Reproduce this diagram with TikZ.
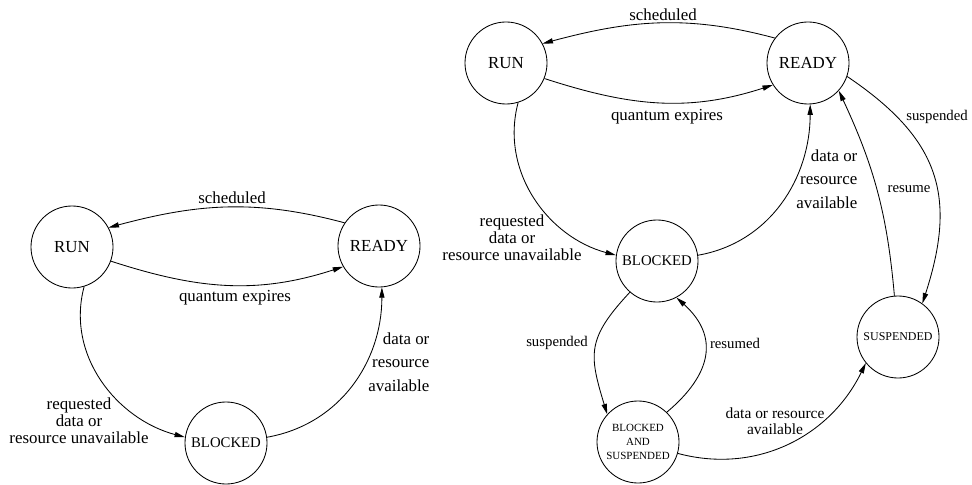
\documentclass[tikz,border=0pt]{standalone}
\usepackage{fontspec}
\setmainfont{Liberation Serif}
\usetikzlibrary{arrows.meta}
\tikzset{
	state/.style={draw, circle, line width=0.6pt, minimum size=2.05cm, inner sep=0pt, font=\fontsize{12}{14}\selectfont},
	trans/.style={-{Triangle[length=2.6mm,width=1.3mm]}, line width=0.6pt},
	lbl/.style={inner sep=1pt, align=center, font=\fontsize{12}{12}\selectfont},
	smalllbl/.style={inner sep=1pt, align=center, font=\fontsize{10.5}{12}\selectfont}
}
\begin{document}
\begin{tikzpicture}[x=0.025cm, y=0.025cm]
	\useasboundingbox (0,0) rectangle (972,-485);
	\node[state] (run1) at (72,-247) {RUN};
	\node[state] (ready1) at (379,-246) {READY};
	\node[state, font=\fontsize{10.5}{12}\selectfont] (blocked1) at (226,-443) {BLOCKED};
	\draw[trans] (ready1.146) to[out=165, in=15] (run1.28);
	\draw[trans] (run1.340) to[out=-18, in=198] (ready1.210);
	\draw[trans] (run1.287) to[out=255, in=165] (blocked1.172);
	\draw[trans] (blocked1.8) to[out=10, in=270] (ready1.274);
	\node[lbl] (sched1) at (232,-198) {scheduled};
	\node[lbl] (quant1) at (235,-298) {quantum expires};
	\node[lbl] (req1) at (79,-421) {requested\\data or\\resource unavailable};
	\node[lbl, align=right, anchor=east, font=\fontsize{12}{16.7}\selectfont] (avail1) at (431,-362) {data or\\resource\\available};
	\node[state] (run2) at (506,-63) {RUN};
	\node[state] (ready2) at (808,-63) {READY};
	\node[state, font=\fontsize{10.5}{12}\selectfont] (blocked2) at (657,-261) {BLOCKED};
	\node[state, align=center, font=\fontsize{7.8}{10}\selectfont] (blsusp) at (638,-442) {BLOCKED\\AND\\SUSPENDED};
	\node[state, font=\fontsize{8.5}{10}\selectfont] (susp) at (898,-337) {SUSPENDED};
	\draw[trans] (ready2.143) to[out=165, in=15] (run2.28);
	\draw[trans] (run2.338) to[out=-18, in=198] (ready2.212);
	\draw[trans] (run2.287) to[out=255, in=165] (blocked2.172);
	\draw[trans] (blocked2.8) to[out=10, in=270] (ready2.273);
	\draw[trans] (ready2.-19) to[out=-34, in=72, looseness=1.2] (susp.54);
	\draw[trans] (susp.95) to[out=95, in=-65] (ready2.318);
	\draw[trans] (blocked2.229) to[out=227, in=107, looseness=1.3] (blsusp.138);
	\draw[trans] (blsusp.46) to[out=40, in=-42, looseness=1.3] (blocked2.298);
	\draw[trans] (blsusp.-16) to[out=-15, in=244] (susp.219);
	\node[lbl] (sched2) at (663,-15) {scheduled};
	\node[lbl] (quant2) at (667,-117) {quantum expires};
	\node[lbl] (req2) at (512,-238) {requested\\data or\\resource unavailable};
	\node[lbl, align=right, anchor=east, font=\fontsize{12}{16.7}\selectfont] (avail2) at (859,-179) {data or\\resource\\available};
	\node[smalllbl] (suspr) at (937,-117) {suspended};
	\node[smalllbl] (resume) at (909,-189) {resume};
	\node[smalllbl] (suspm) at (557,-343) {suspended};
	\node[smalllbl] (resumed) at (735,-343) {resumed};
	\node[lbl, font=\fontsize{11}{11}\selectfont] (avail3) at (775,-421) {data or resource\\available};
\end{tikzpicture}
\end{document}
